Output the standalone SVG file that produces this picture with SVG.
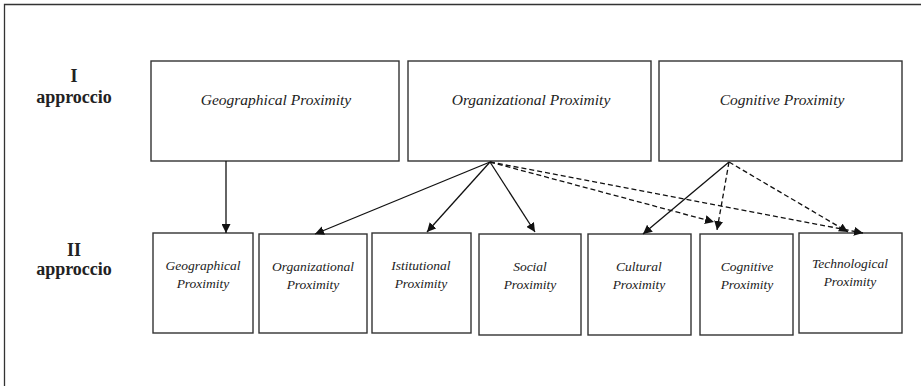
<svg xmlns="http://www.w3.org/2000/svg" width="921" height="386" viewBox="0 0 921 386">
<defs>
<style>
.box{fill:#fff;stroke:#333;stroke-width:1.4}
.t{font-family:"Liberation Serif","Times New Roman",serif;font-style:italic;fill:#222;text-anchor:middle}
.big{font-size:15.5px}
.sm{font-size:13.5px}
.lab{font-family:"Liberation Serif","Times New Roman",serif;font-weight:bold;font-size:18px;fill:#222;text-anchor:middle}
.c{stroke:#111;stroke-width:1.3;fill:none}
.d{stroke-dasharray:5,3}
</style>
<marker id="ah" viewBox="0 0 10 10" refX="10" refY="5" markerWidth="9" markerHeight="9" markerUnits="userSpaceOnUse" orient="auto"><path d="M0,0 L10,5 L0,10 z" fill="#111"/></marker>
</defs>
<rect width="921" height="386" fill="#fff"/>
<path d="M4.5,386 V4.5 H921" fill="none" stroke="#333" stroke-width="1.3"/>
<g id="label-I"><text class="lab" x="74" y="82">I</text><text class="lab" x="74" y="103">approccio</text></g>
<g id="label-II"><text class="lab" x="74" y="256">II</text><text class="lab" x="74" y="275">approccio</text></g>
<g id="top-geo"><rect class="box" x="151" y="61" width="248" height="100"/><text class="t big" x="276" y="105">Geographical Proximity</text></g>
<g id="top-org"><rect class="box" x="408" y="61" width="243" height="100"/><text class="t big" x="531" y="105">Organizational Proximity</text></g>
<g id="top-cog"><rect class="box" x="659" y="61" width="243" height="100"/><text class="t big" x="782" y="105">Cognitive Proximity</text></g>
<g id="b-geo"><rect class="box" x="153" y="233" width="100" height="100"/><text class="t sm" x="203" y="270">Geographical</text><text class="t sm" x="203" y="288">Proximity</text></g>
<g id="b-org"><rect class="box" x="259" y="234" width="108" height="99"/><text class="t sm" x="313" y="271">Organizational</text><text class="t sm" x="313" y="289">Proximity</text></g>
<g id="b-ist"><rect class="box" x="372" y="233" width="99" height="100"/><text class="t sm" x="421" y="270">Istitutional</text><text class="t sm" x="421" y="288">Proximity</text></g>
<g id="b-soc"><rect class="box" x="479" y="234" width="102" height="101"/><text class="t sm" x="530" y="271">Social</text><text class="t sm" x="530" y="289">Proximity</text></g>
<g id="b-cul"><rect class="box" x="588" y="234" width="103" height="101"/><text class="t sm" x="639" y="271">Cultural</text><text class="t sm" x="639" y="289">Proximity</text></g>
<g id="b-cog"><rect class="box" x="700" y="234" width="93" height="101"/><text class="t sm" x="747" y="271">Cognitive</text><text class="t sm" x="747" y="289">Proximity</text></g>
<g id="b-tec"><rect class="box" x="799" y="233" width="103" height="100"/><text class="t sm" x="850" y="268">Technological</text><text class="t sm" x="850" y="286">Proximity</text></g>
<g id="connectors">
<line class="c" x1="226" y1="161" x2="226" y2="233" marker-end="url(#ah)"/>
<line class="c" x1="490" y1="162" x2="315" y2="234" marker-end="url(#ah)"/>
<line class="c" x1="490" y1="162" x2="427" y2="232" marker-end="url(#ah)"/>
<line class="c" x1="490" y1="162" x2="535" y2="232" marker-end="url(#ah)"/>
<line class="c d" x1="490" y1="162" x2="714" y2="222" marker-end="url(#ah)"/>
<line class="c d" x1="490" y1="162" x2="863" y2="233" marker-end="url(#ah)"/>
<line class="c" x1="729" y1="162" x2="643" y2="234" marker-end="url(#ah)"/>
<line class="c d" x1="729" y1="162" x2="717" y2="230" marker-end="url(#ah)"/>
<line class="c d" x1="729" y1="162" x2="848" y2="232" marker-end="url(#ah)"/>
</g>
</svg>
